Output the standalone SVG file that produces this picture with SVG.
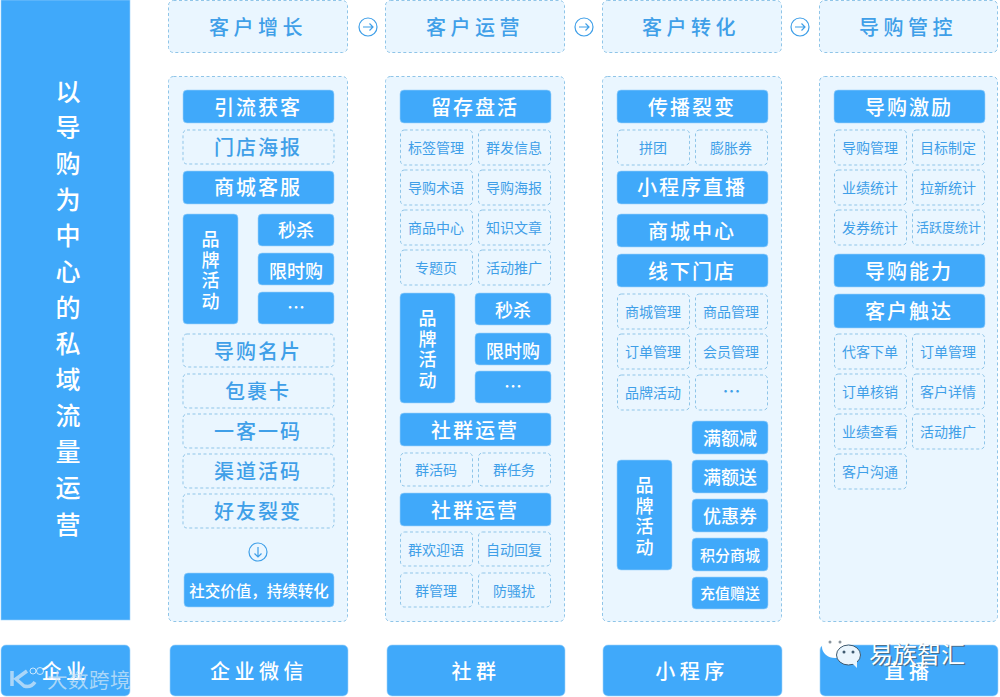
<svg xmlns="http://www.w3.org/2000/svg" width="1000" height="697" viewBox="0 0 1000 697">
<style>
text{font-family:"Noto Sans CJK SC","Noto Sans",sans-serif;text-anchor:middle;dominant-baseline:central;transform:translateY(-.7px)}
.s rect{fill:#40a9fa;stroke:#9fd4fa;stroke-width:.6}
.s text{fill:#fff}
.d rect{fill:#eaf6ff;stroke:#8fc5e8;stroke-width:1;stroke-dasharray:3 2.5}
.d text{fill:#3f9fe8}
.p{fill:#eaf6ff;stroke:#8fc5e8;stroke-width:1;stroke-dasharray:3 2.5}
.xl text{font-size:20px;letter-spacing:4.500px;font-weight:500}
.l text{font-size:20px;letter-spacing:2px;font-weight:500}
.m text{font-size:18px;font-weight:500}
.t text{font-size:14px}
.c{fill:none;stroke:#3f9fe8;stroke-width:1.2}
</style>
<defs>
<g id="circ"><circle class="c" r="9"/></g>
</defs>

<g id="sidebar" class="s">
<rect x="1" y="0" width="129" height="620"/>
<text font-size="25" font-weight="500"><tspan x="68" y="91">以</tspan><tspan x="68" y="127">导</tspan><tspan x="68" y="163">购</tspan><tspan x="68" y="199">为</tspan><tspan x="68" y="235">中</tspan><tspan x="68" y="271">心</tspan><tspan x="68" y="307">的</tspan><tspan x="68" y="343">私</tspan><tspan x="68" y="379">域</tspan><tspan x="68" y="415">流</tspan><tspan x="68" y="451">量</tspan><tspan x="68" y="487">运</tspan><tspan x="68" y="524">营</tspan></text>
</g>

<g id="channels" class="s xl">
<g id="ch1"><rect x="1" y="645" width="129" height="51" rx="5"/><text x="66" y="671">企业</text></g>
<g id="ch2"><rect x="170" y="645" width="178" height="51" rx="5"/><text x="259" y="671">企业微信</text></g>
<g id="ch3"><rect x="387" y="645" width="178" height="51" rx="5"/><text x="476" y="671">社群</text></g>
<g id="ch4"><rect x="603" y="645" width="179" height="51" rx="5"/><text x="692" y="671">小程序</text></g>
<g id="ch5"><rect x="820" y="645" width="178" height="51" rx="5"/><text x="909" y="671">直播</text></g>
</g>

<g id="heads" class="d xl">
<g id="h1"><rect x="168.500" y="0.500" width="179" height="52" rx="5"/><text x="258" y="27">客户增长</text></g>
<g id="h2"><rect x="385.500" y="0.500" width="179" height="52" rx="5"/><text x="475" y="27">客户运营</text></g>
<g id="h3"><rect x="602.500" y="0.500" width="179" height="52" rx="5"/><text x="691" y="27">客户转化</text></g>
<g id="h4"><rect x="819.500" y="0.500" width="178" height="52" rx="5"/><text x="908" y="27">导购管控</text></g>
</g>

<g id="panels">
<rect class="p" x="168.500" y="76.500" width="179" height="545" rx="5"/>
<rect class="p" x="385.500" y="76.500" width="179" height="545" rx="5"/>
<rect class="p" x="602.500" y="76.500" width="179" height="545" rx="5"/>
<rect class="p" x="819.500" y="76.500" width="178" height="545" rx="5"/>
</g>

<g id="connectors">
<g transform="translate(368 27)"><use href="#circ"/><path class="c" d="M-5 0H5M1.500-3.500L5 0L1.500 3.500"/></g>
<g transform="translate(584 27)"><use href="#circ"/><path class="c" d="M-5 0H5M1.500-3.500L5 0L1.500 3.500"/></g>
<g transform="translate(800 27)"><use href="#circ"/><path class="c" d="M-5 0H5M1.500-3.500L5 0L1.500 3.500"/></g>
<g transform="translate(258 552)"><use href="#circ"/><path class="c" d="M0-5V5M-3.500 1.500L0 5L3.500 1.500"/></g>
</g>

<g id="col1">
<g class="s l"><rect x="183" y="90" width="151" height="33" rx="4"/><text x="258" y="107">引流获客</text></g>
<g class="d l"><rect x="183" y="130" width="151" height="34" rx="4"/><text x="258" y="147">门店海报</text></g>
<g class="s l"><rect x="183" y="171" width="151" height="33" rx="4"/><text x="258" y="187">商城客服</text></g>
<g class="s m"><rect x="183" y="214" width="55" height="110" rx="4"/><text><tspan x="210.500" y="239">品</tspan><tspan x="210.500" y="260">牌</tspan><tspan x="210.500" y="280">活</tspan><tspan x="210.500" y="301">动</tspan></text></g>
<g class="s m"><rect x="258" y="214" width="76" height="32" rx="4"/><text x="296" y="230">秒杀</text></g>
<g class="s m"><rect x="258" y="253" width="76" height="32" rx="4"/><text x="296" y="271">限时购</text></g>
<g class="s m"><rect x="258" y="292" width="76" height="32" rx="4"/><text x="296" y="307">…</text></g>
<g class="d l"><rect x="183" y="334" width="151" height="33" rx="4"/><text x="258" y="351">导购名片</text></g>
<g class="d l"><rect x="183" y="374" width="151" height="34" rx="4"/><text x="258" y="391">包裹卡</text></g>
<g class="d l"><rect x="183" y="414" width="151" height="34" rx="4"/><text x="258" y="431">一客一码</text></g>
<g class="d l"><rect x="183" y="454" width="151" height="34" rx="4"/><text x="258" y="471">渠道活码</text></g>
<g class="d l"><rect x="183" y="494" width="151" height="34" rx="4"/><text x="258" y="511">好友裂变</text></g>
<g class="s"><rect x="184" y="573" width="150" height="34" rx="4"/><text x="259" y="591" font-size="15.500" font-weight="500">社交价值，持续转化</text></g>
</g>

<g id="col2">
<g class="s l"><rect x="400" y="90" width="151" height="33" rx="4"/><text x="475" y="107">留存盘活</text></g>
<g class="d t"><rect x="400.500" y="130" width="72" height="35" rx="4"/><text x="436" y="147.500">标签管理</text></g>
<g class="d t"><rect x="478.500" y="130" width="72" height="35" rx="4"/><text x="514" y="147.500">群发信息</text></g>
<g class="d t"><rect x="400.500" y="170" width="72" height="35" rx="4"/><text x="436" y="187.500">导购术语</text></g>
<g class="d t"><rect x="478.500" y="170" width="72" height="35" rx="4"/><text x="514" y="187.500">导购海报</text></g>
<g class="d t"><rect x="400.500" y="210" width="72" height="35" rx="4"/><text x="436" y="227.500">商品中心</text></g>
<g class="d t"><rect x="478.500" y="210" width="72" height="35" rx="4"/><text x="514" y="227.500">知识文章</text></g>
<g class="d t"><rect x="400.500" y="250" width="72" height="35" rx="4"/><text x="436" y="267.500">专题页</text></g>
<g class="d t"><rect x="478.500" y="250" width="72" height="35" rx="4"/><text x="514" y="267.500">活动推广</text></g>
<g class="s m"><rect x="400" y="293" width="55" height="110" rx="4"/><text><tspan x="427.500" y="318">品</tspan><tspan x="427.500" y="339">牌</tspan><tspan x="427.500" y="359">活</tspan><tspan x="427.500" y="380">动</tspan></text></g>
<g class="s m"><rect x="475" y="293" width="76" height="32" rx="4"/><text x="513" y="310">秒杀</text></g>
<g class="s m"><rect x="475" y="333" width="76" height="32" rx="4"/><text x="513" y="351">限时购</text></g>
<g class="s m"><rect x="475" y="371" width="76" height="32" rx="4"/><text x="513" y="386">…</text></g>
<g class="s l"><rect x="400" y="413" width="151" height="33" rx="4"/><text x="475" y="430">社群运营</text></g>
<g class="d t"><rect x="400.500" y="453" width="72" height="33" rx="4"/><text x="436" y="469.500">群活码</text></g>
<g class="d t"><rect x="478.500" y="453" width="72" height="33" rx="4"/><text x="514" y="469.500">群任务</text></g>
<g class="s l"><rect x="400" y="493" width="151" height="33" rx="4"/><text x="475" y="510">社群运营</text></g>
<g class="d t"><rect x="400.500" y="532" width="72" height="34" rx="4"/><text x="436" y="550">群欢迎语</text></g>
<g class="d t"><rect x="478.500" y="532" width="72" height="34" rx="4"/><text x="514" y="550">自动回复</text></g>
<g class="d t"><rect x="400.500" y="573" width="72" height="34" rx="4"/><text x="436" y="590.500">群管理</text></g>
<g class="d t"><rect x="478.500" y="573" width="72" height="34" rx="4"/><text x="514" y="590.500">防骚扰</text></g>
</g>

<g id="col3">
<g class="s l"><rect x="617" y="90" width="151" height="33" rx="4"/><text x="692" y="107">传播裂变</text></g>
<g class="d t"><rect x="617.500" y="130" width="72" height="35" rx="4"/><text x="653" y="147.500">拼团</text></g>
<g class="d t"><rect x="695.500" y="130" width="72" height="35" rx="4"/><text x="731" y="147.500">膨胀券</text></g>
<g class="s l"><rect x="617" y="171" width="151" height="33" rx="4"/><text x="692" y="187">小程序直播</text></g>
<g class="s l"><rect x="617" y="214" width="151" height="33" rx="4"/><text x="692" y="231">商城中心</text></g>
<g class="s l"><rect x="617" y="254" width="151" height="33" rx="4"/><text x="692" y="271">线下门店</text></g>
<g class="d t"><rect x="617.500" y="294" width="72" height="35" rx="4"/><text x="653" y="311.500">商城管理</text></g>
<g class="d t"><rect x="695.500" y="294" width="72" height="35" rx="4"/><text x="731" y="311.500">商品管理</text></g>
<g class="d t"><rect x="617.500" y="334" width="72" height="35" rx="4"/><text x="653" y="351.500">订单管理</text></g>
<g class="d t"><rect x="695.500" y="334" width="72" height="35" rx="4"/><text x="731" y="351.500">会员管理</text></g>
<g class="d t"><rect x="617.500" y="375" width="72" height="35" rx="4"/><text x="653" y="392.500">品牌活动</text></g>
<g class="d m"><rect x="695.500" y="375" width="72" height="35" rx="4"/><text x="731.500" y="391">…</text></g>
<g class="s m"><rect x="617" y="460" width="55" height="110" rx="4"/><text><tspan x="644.500" y="485">品</tspan><tspan x="644.500" y="506">牌</tspan><tspan x="644.500" y="526">活</tspan><tspan x="644.500" y="547">动</tspan></text></g>
<g class="s m"><rect x="692" y="421" width="76" height="33" rx="4"/><text x="730" y="438">满额减</text></g>
<g class="s m"><rect x="692" y="460" width="76" height="33" rx="4"/><text x="730" y="477">满额送</text></g>
<g class="s m"><rect x="692" y="499" width="76" height="33" rx="4"/><text x="730" y="516">优惠券</text></g>
<g class="s"><rect x="692" y="538" width="76" height="33" rx="4"/><text x="730" y="555" font-size="15" font-weight="500">积分商城</text></g>
<g class="s"><rect x="692" y="577" width="76" height="32" rx="4"/><text x="730" y="593" font-size="15" font-weight="500">充值赠送</text></g>
</g>

<g id="col4">
<g class="s l"><rect x="834" y="90" width="151" height="33" rx="4"/><text x="909" y="107">导购激励</text></g>
<g class="d t"><rect x="834.500" y="130" width="72" height="35" rx="4"/><text x="870" y="147.500">导购管理</text></g>
<g class="d t"><rect x="912.500" y="130" width="72" height="35" rx="4"/><text x="948" y="147.500">目标制定</text></g>
<g class="d t"><rect x="834.500" y="170" width="72" height="35" rx="4"/><text x="870" y="187.500">业绩统计</text></g>
<g class="d t"><rect x="912.500" y="170" width="72" height="35" rx="4"/><text x="948" y="187.500">拉新统计</text></g>
<g class="d t"><rect x="834.500" y="210" width="72" height="35" rx="4"/><text x="870" y="227.500">发券统计</text></g>
<g class="d"><rect x="912.500" y="210" width="72" height="35" rx="4"/><text x="948.500" y="227.500" font-size="13">活跃度统计</text></g>
<g class="s l"><rect x="834" y="254" width="151" height="33" rx="4"/><text x="909" y="271">导购能力</text></g>
<g class="s l"><rect x="834" y="294" width="151" height="34" rx="4"/><text x="909" y="311">客户触达</text></g>
<g class="d t"><rect x="834.500" y="334" width="72" height="35" rx="4"/><text x="870" y="351.500">代客下单</text></g>
<g class="d t"><rect x="912.500" y="334" width="72" height="35" rx="4"/><text x="948" y="351.500">订单管理</text></g>
<g class="d t"><rect x="834.500" y="374" width="72" height="35" rx="4"/><text x="870" y="391.500">订单核销</text></g>
<g class="d t"><rect x="912.500" y="374" width="72" height="35" rx="4"/><text x="948" y="391.500">客户详情</text></g>
<g class="d t"><rect x="834.500" y="414" width="72" height="35" rx="4"/><text x="870" y="431.500">业绩查看</text></g>
<g class="d t"><rect x="912.500" y="414" width="72" height="35" rx="4"/><text x="948" y="431.500">活动推广</text></g>
<g class="d t"><rect x="834.500" y="454" width="72" height="35" rx="4"/><text x="870" y="471.500">客户沟通</text></g>
</g>

<g id="watermarks">
<text x="89" y="680" font-size="20.500" fill="#cfe6f7" fill-opacity=".75" letter-spacing=".5">大数跨境</text>
<path d="M12 671V686M27 671L16 679L24 686Q31 688 35 682" fill="none" stroke="#cfe6f7" stroke-opacity=".75" stroke-width="3.500"/>
<g fill="none" stroke="#fff" stroke-opacity=".7" stroke-width="1"><circle cx="33" cy="671" r="3"/><circle cx="40" cy="671" r="3.500"/></g>
<text x="917" y="653" font-size="24" fill="#4a5a66" opacity=".7" dx="1.500" dy="1.500">易族智汇</text>
<text x="917" y="653" font-size="24" fill="#fff">易族智汇</text>
<ellipse cx="835" cy="647" rx="13" ry="11" fill="#fff"/>
<circle cx="830" cy="642" r="1.500" fill="#8a959e"/><circle cx="840" cy="642" r="1.500" fill="#8a959e"/>
<ellipse cx="848.500" cy="655" rx="12" ry="10" fill="#eaf5fd" stroke="#3f5a70" stroke-width="1"/>
<path d="M852 663L857 668L857 660Z" fill="#eaf5fd"/>
<circle cx="844" cy="652" r="1.500" fill="#3f5a70"/><circle cx="853" cy="652" r="1.500" fill="#3f5a70"/>
</g>
</svg>
